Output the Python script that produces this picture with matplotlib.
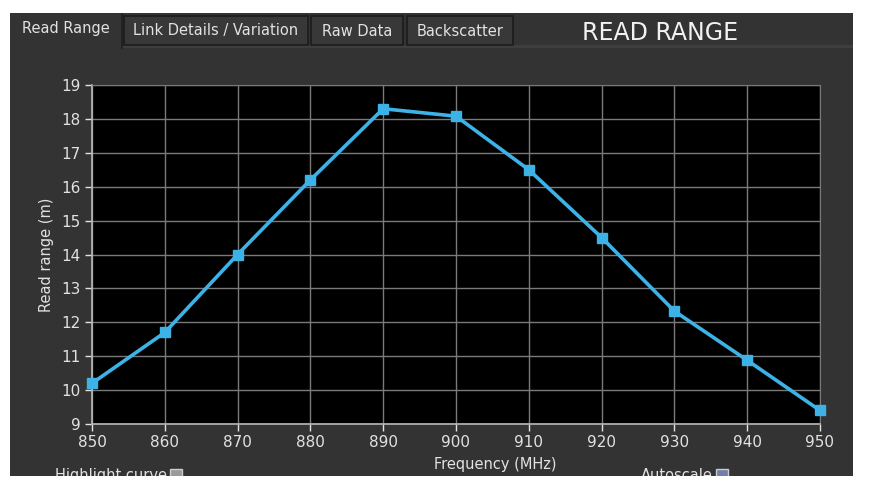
import matplotlib.pyplot as plt
from matplotlib.patches import Rectangle

# data
freq_mhz = [850, 860, 870, 880, 890, 900, 910, 920, 930, 940, 950]
read_range_m = [10.2, 11.7, 14.0, 16.2, 18.3, 18.08, 16.5, 14.5, 12.33, 10.88, 9.4]
tab_names = ["Read Range", "Link Details / Variation", "Raw Data", "Backscatter"]

PANEL = '#333333'
TEXT = '#e2e2e2'
LINE = '#3db2e6'

W, H = 870, 488
fig = plt.figure(figsize=(W / 100, H / 100), dpi=100)
fig.patch.set_facecolor('white')

## background "window" drawn in pixel coordinates
bg = fig.add_axes([0, 0, 1, 1], zorder=0)
bg.set_xlim(0, W)
bg.set_ylim(H, 0)
bg.axis('off')
bg.add_patch(Rectangle((10, 13), 843, 463, facecolor=PANEL, edgecolor='none'))
bg.add_patch(Rectangle((10, 45), 843, 3, facecolor='#3e3e3e', edgecolor='none'))

## tabs
tab_spans = [(10, 122), (124, 308), (311, 403), (407, 513)]
for i, (name, (x0, x1)) in enumerate(zip(tab_names, tab_spans)):
    if i == 0:
        bg.add_patch(Rectangle((x0, 13), x1 - x0, 35, facecolor=PANEL, edgecolor='none'))
        bg.plot([x1, x1], [14, 48], color='#1e1e1e', lw=1.2)
        ty = 29
    else:
        bg.add_patch(Rectangle((x0, 16), x1 - x0, 29, facecolor='#383838',
                               edgecolor='#1c1c1c', lw=1.2))
        ty = 31
    bg.text((x0 + x1) / 2, ty, name, color=TEXT, fontsize=10.5, ha='center', va='center')
bg.text(660, 33, "READ RANGE", color='#f2f2f2', fontsize=17, ha='center', va='center')

## bottom controls (cut off by the screenshot edge, as in the original)
bg.text(167, 468, "Highlight curve", color=TEXT, fontsize=10.5, ha='right', va='top')
bg.add_patch(Rectangle((170, 469), 12, 12, facecolor='#9a9a9a', edgecolor='#cccccc', lw=1))
bg.text(713, 468, "Autoscale", color=TEXT, fontsize=10.5, ha='right', va='top')
bg.add_patch(Rectangle((716, 469), 12, 12, facecolor='#6f7fa8', edgecolor='#cccccc', lw=1))
bg.add_patch(Rectangle((0, 476), W, 12, facecolor='white', edgecolor='none', zorder=10))

bg.text(495, 465, "Frequency (MHz)", color=TEXT, fontsize=10.5, ha='center', va='center')
bg.text(47, 255, "Read range (m)", color=TEXT, fontsize=10.5, ha='center', va='center',
        rotation=90)

## plot area
ax = fig.add_axes([92 / W, 1 - 424 / H, 728 / W, 339 / H], zorder=1)
ax.set_facecolor('black')
ax.plot(freq_mhz, read_range_m, color=LINE, lw=2.6, marker='s', markersize=6.5,
        markerfacecolor=LINE, markeredgecolor=LINE, clip_on=False, zorder=3)

ax.set_xlim(850, 950)
ax.set_ylim(9, 19)
ax.set_xticks(freq_mhz)
ax.set_yticks(range(9, 20))
ax.grid(True, color='#7a7a7a', lw=1)
ax.set_axisbelow(True)
for side in ['top', 'right']:
    ax.spines[side].set_color('#7a7a7a')
for side in ['left', 'bottom']:
    ax.spines[side].set_color('#b8b8b8')
    ax.spines[side].set_linewidth(1.2)
ax.tick_params(axis='both', direction='out', length=5, width=1, color=TEXT,
               labelcolor=TEXT, labelsize=11, pad=3)

plt.savefig('out.png', dpi=100, facecolor='white')
